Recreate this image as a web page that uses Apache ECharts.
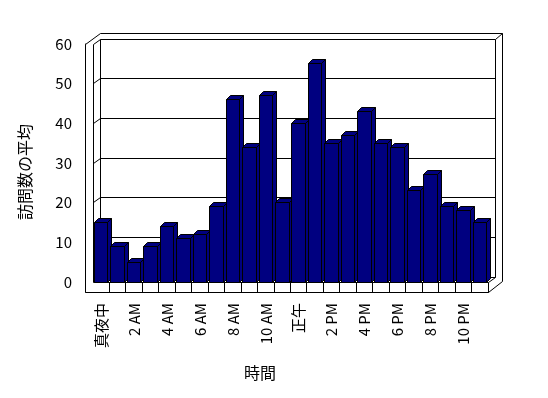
<!DOCTYPE html>
<html><head><meta charset="utf-8">
<script src="https://cdn.jsdelivr.net/npm/echarts@6/dist/echarts.min.js"></script>
<style>html,body{margin:0;padding:0;background:#fff}#c{width:548px;height:398px}</style>
</head><body><div id="c"></div>
<script>
const categories = ['真夜中','1 AM','2 AM','3 AM','4 AM','5 AM','6 AM','7 AM','8 AM','9 AM','10 AM','11 AM','正午','1 PM','2 PM','3 PM','4 PM','5 PM','6 PM','7 PM','8 PM','9 PM','10 PM','11 PM'];
const visits = [15,9,5,9,14,11,12,19,46,34,47,20,40,55,35,37,43,35,34,23,27,19,18,15];
const yTicks = [0,10,20,30,40,50,60];
const xTitle = '時間';
const yTitle = '訪問数の平均';

const FONT = "'Noto Sans CJK JP', sans-serif";
const NAVY = '#000080';
const DX = 7, DY = -5;      // back-wall depth offset
const WALL = 8;             // left wall thickness
const FLOOR = 10;           // floor thickness
const TOPW = 6;             // wall top thickness
const BDX = 4, BDY = -4;    // bar depth
const p = v => Math.round(v - 0.5) + 0.5;
const P = pts => pts.map(q => [p(q[0]), p(q[1])]);

function frameItem(params, api) {
  const band = api.size([1, 0])[0];
  const x0 = api.coord([0, 0])[0] - band / 2;
  const x1 = api.coord([categories.length - 1, 0])[0] + band / 2;
  const y0 = api.coord([0, yTicks[0]])[1];
  const yTop = api.coord([0, yTicks[yTicks.length - 1]])[1];
  const ch = [];
  const ls = {stroke: '#000', lineWidth: 1, fill: null};
  const line = pts => ch.push({type: 'polyline', shape: {points: P(pts)}, style: ls});
  ch.push({type: 'polygon', shape: {points: P([
    [x0 - WALL, y0 + FLOOR], [x0 - WALL, yTop], [x0 + DX, yTop + DY - TOPW],
    [x1 + 2 * DX, yTop + DY - TOPW], [x1 + 2 * DX, y0 - 1], [x1, y0 + FLOOR]])},
    style: {fill: '#fff', stroke: '#000', lineWidth: 1}});
  line([[x0 + DX, y0 + DY], [x0 + DX, yTop + DY], [x1 + DX, yTop + DY], [x1 + DX, y0 + DY]]);
  line([[x1 + DX, yTop + DY], [x1 + 2 * DX, yTop + DY - TOPW]]);
  line([[x0, y0], [x0, yTop], [x0 + DX, yTop + DY]]);
  line([[x0 + DX, y0 + DY], [x1 + DX, y0 + DY]]);
  line([[x1, y0], [x1 + DX, y0 + DY]]);
  line([[x0 - WALL, y0 + FLOOR], [x1, y0 + FLOOR]]);
  line([[x0, y0], [x1, y0]]);
  for (let i = 1; i <= categories.length; i++) {
    const bx = x0 + band * i;
    line([[bx, y0], [bx, y0 + FLOOR]]);
  }
  for (let k = 1; k < yTicks.length - 1; k++) {
    const y = api.coord([0, yTicks[k]])[1];
    line([[x0, y], [x0 + DX, y + DY], [x1 + DX, y + DY]]);
  }
  return {type: 'group', children: ch};
}

function barItem(params, api) {
  const idx = api.value(0);
  const top = api.coord([idx, api.value(1)]);
  const base = api.coord([idx, 0]);
  const band = api.size([1, 0])[0];
  const L = top[0] - band / 2 + 1.5;
  const R = L + band * 0.82;
  const T = top[1], B = base[1];
  const st = {fill: NAVY, stroke: '#000', lineWidth: 1};
  return {type: 'group', children: [
    {type: 'polygon', shape: {points: P([[R, T], [R + BDX, T + BDY], [R + BDX, B + BDY], [R, B]])}, style: st},
    {type: 'polygon', shape: {points: P([[L, T], [L + BDX, T + BDY], [R + BDX, T + BDY], [R, T]])}, style: st},
    {type: 'polygon', shape: {points: P([[L, T], [R, T], [R, B], [L, B]])}, style: st}
  ]};
}

const chart = echarts.init(document.getElementById('c'), null, {renderer: 'canvas'});
chart.setOption({
  backgroundColor: '#fff',
  animation: false,
  grid: {left: 93, right: 60, top: 44, bottom: 116, containLabel: false},
  xAxis: {
    type: 'category', data: categories, boundaryGap: true,
    axisLine: {show: false}, axisTick: {show: false}, splitLine: {show: false},
    axisLabel: {interval: 1, rotate: 90, margin: 21, color: '#000', fontFamily: FONT, fontSize: 15},
    name: xTitle, nameLocation: 'middle', nameGap: 83,
    nameTextStyle: {color: '#000', fontFamily: FONT, fontSize: 16, padding: [0, 61, 0, 0]}
  },
  yAxis: {
    type: 'value', min: yTicks[0], max: yTicks[yTicks.length - 1], interval: 10,
    offset: WALL,
    axisLine: {show: true, lineStyle: {color: '#000', width: 1}},
    axisTick: {show: true, inside: true, length: 4, lineStyle: {color: '#000'}},
    splitLine: {show: false},
    axisLabel: {margin: 13, color: '#000', fontFamily: FONT, fontSize: 15},
    name: yTitle, nameLocation: 'middle', nameGap: 52, nameRotate: 90,
    nameTextStyle: {color: '#000', fontFamily: FONT, fontSize: 16, padding: [0, 18, 0, 0]}
  },
  series: [
    {type: 'custom', z: 1, data: [[0, 0]], renderItem: frameItem, silent: true},
    {type: 'custom', z: 2, data: visits.map((v, i) => [i, v]), renderItem: barItem,
     encode: {x: 0, y: 1}}
  ]
});
</script>
</body></html>
